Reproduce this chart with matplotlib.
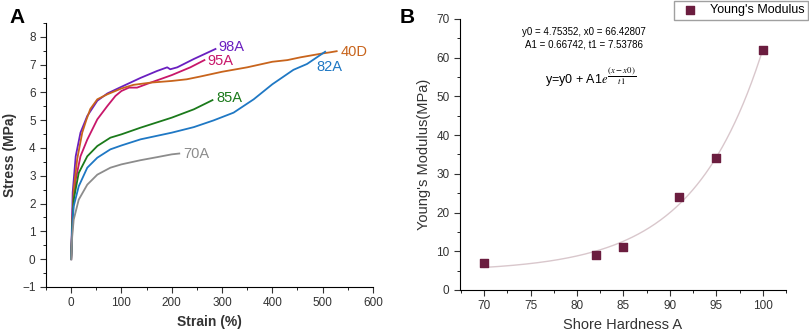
import matplotlib.pyplot as plt
import numpy as np
from matplotlib.ticker import MultipleLocator

plt.rcParams['font.family'] = ['Liberation Sans', 'DejaVu Sans']
plt.rcParams['mathtext.fontset'] = 'stix'

# panel A: stress-strain curves
x98 = [0, 3, 9, 18.5, 32, 52, 72, 100, 138, 171, 191, 197, 211, 244, 287]
y98 = [0, 2.4, 3.7, 4.55, 5.15, 5.7, 5.96, 6.2, 6.52, 6.77, 6.9, 6.83, 6.9, 7.2, 7.56]
x95 = [0, 3, 9, 18.5, 32, 52, 72, 88, 100, 115, 131, 158, 200, 237, 265]
y95 = [0, 1.8, 2.86, 3.7, 4.3, 5.03, 5.51, 5.87, 6.05, 6.17, 6.17, 6.35, 6.62, 6.9, 7.16]
x40 = [0, 5, 12, 22, 30, 38, 52, 72, 100, 124, 158, 200, 230, 257, 300, 350, 400, 430, 456, 500, 515, 528]
y40 = [0, 2.5, 3.6, 4.55, 5.0, 5.4, 5.75, 5.93, 6.14, 6.27, 6.35, 6.41, 6.47, 6.57, 6.74, 6.9, 7.1, 7.16, 7.26, 7.4, 7.44, 7.48]
x85 = [0, 2, 5, 15, 32, 52, 78, 100, 138, 200, 244, 281]
y85 = [0, 1.2, 2.14, 3.1, 3.7, 4.07, 4.37, 4.49, 4.73, 5.09, 5.39, 5.72]
x82 = [0, 2, 5, 15, 32, 52, 78, 100, 138, 200, 244, 283, 323, 363, 400, 442, 469, 505]
y82 = [0, 1.1, 1.9, 2.62, 3.29, 3.65, 3.95, 4.09, 4.31, 4.55, 4.75, 4.99, 5.27, 5.75, 6.29, 6.81, 7.02, 7.46]
x70 = [0, 2, 5, 15, 32, 52, 78, 100, 138, 171, 200, 215]
y70 = [0, 0.8, 1.42, 2.14, 2.68, 3.04, 3.29, 3.41, 3.56, 3.67, 3.77, 3.8]

# panel B: Young's modulus vs hardness
hardness = [70, 82, 85, 91, 95, 100]
modulus = [7, 9, 11, 24, 34, 62]
y0, x0, A1, t1 = 4.75352, 66.42807, 0.66742, 7.53786

fig = plt.figure(figsize=(8.09, 3.31), dpi=100)
fig.patch.set_facecolor('white')

ax1 = fig.add_axes([0.0569, 0.133, 0.404, 0.798])
curves = [
    (x98, y98, '#6a1fc0', '98A', (293, 7.64)),
    (x95, y95, '#c8176a', '95A', (270, 7.12)),
    (x40, y40, '#c8641c', '40D', (535, 7.45)),
    (x85, y85, '#1b7a1b', '85A', (288, 5.78)),
    (x82, y82, '#1f78c4', '82A', (487, 6.9)),
    (x70, y70, '#8c8c8c', '70A', (222, 3.78)),
]
for xs, ys, c, lab, (lx, ly) in curves:
    ax1.plot(xs, ys, color=c, lw=1.3)
    ax1.text(lx, ly, lab, color=c, fontsize=10.5, va='center', ha='left')

ax1.set_xlim(-50, 600)
ax1.set_ylim(-1, 8.5)
ax1.xaxis.set_major_locator(MultipleLocator(100))
ax1.xaxis.set_minor_locator(MultipleLocator(50))
ax1.yaxis.set_major_locator(MultipleLocator(1))
ax1.yaxis.set_minor_locator(MultipleLocator(0.5))
ax1.set_xlabel('Strain (%)', fontsize=10, fontweight='bold', color='#333333')
ax1.set_ylabel('Stress (MPa)', fontsize=10, fontweight='bold', color='#333333')
ax1.spines['top'].set_visible(False)
ax1.spines['right'].set_visible(False)
ax1.tick_params(labelsize=8.5, colors='#333333', length=4)
ax1.tick_params(which='minor', length=2.5)

ax2 = fig.add_axes([0.5686, 0.1239, 0.403, 0.819])
xf = np.linspace(70, 100, 200)
ax2.plot(xf, y0 + A1 * np.exp((xf - x0) / t1), color='#d9c7cc', lw=1)
ax2.scatter(hardness, modulus, marker='s', s=30, color='#6b1d3f', zorder=3,
            label="Young's Modulus")
ax2.set_xlim(67.4, 102.5)
ax2.set_ylim(0, 70)
ax2.xaxis.set_major_locator(MultipleLocator(5))
ax2.xaxis.set_minor_locator(MultipleLocator(2.5))
ax2.yaxis.set_major_locator(MultipleLocator(10))
ax2.yaxis.set_minor_locator(MultipleLocator(5))
ax2.set_xlabel('Shore Hardness A', fontsize=10.5, color='#333333')
ax2.set_ylabel("Young's Modulus(MPa)", fontsize=10.5, color='#333333')
ax2.spines['top'].set_visible(False)
ax2.spines['right'].set_visible(False)
ax2.tick_params(labelsize=8.5, colors='#333333', length=4)
ax2.tick_params(which='minor', length=2.5)

ax2.text(80.7, 66.5, 'y0 = 4.75352, x0 = 66.42807', fontsize=7, ha='center', va='center')
ax2.text(80.7, 63.5, 'A1 = 0.66742, t1 = 7.53786', fontsize=7, ha='center', va='center')
ax2.text(76.5, 55, r'y=y0 + A1$e^{\dfrac{(x-x0)}{t1}}$', fontsize=9, ha='left', va='center')

fig.legend(loc='upper right', bbox_to_anchor=(1.0, 1.0), fontsize=9,
           frameon=True, fancybox=False, edgecolor='#888888',
           handletextpad=0.6, borderpad=0.3, borderaxespad=0.05)

fig.text(0.012, 0.975, 'A', fontsize=15, fontweight='bold', va='top')
fig.text(0.494, 0.975, 'B', fontsize=15, fontweight='bold', va='top')

fig.savefig('out.png', dpi=100)
